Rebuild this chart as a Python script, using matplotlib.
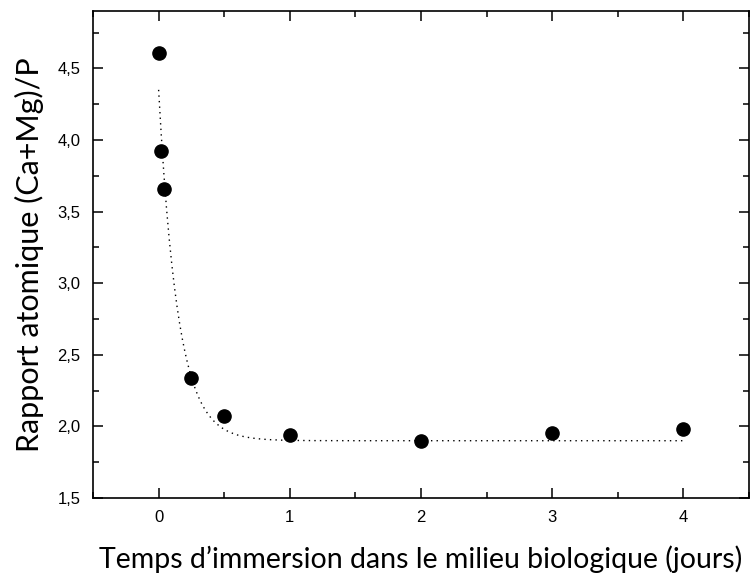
import numpy as np
import matplotlib
matplotlib.use("Agg")
import matplotlib.pyplot as plt
from matplotlib.ticker import MultipleLocator, FuncFormatter

# temps d'immersion (jours) et rapport atomique mesure
jours = [0, 0.0208, 0.0417, 0.25, 0.5, 1, 2, 3, 4]
rapport = [4.61, 3.92, 3.66, 2.34, 2.07, 1.94, 1.90, 1.955, 1.985]

# parametres de l'ajustement exponentiel y = y0 + A*exp(-t/tau)
y0 = 1.9
A = 2.45
tau = 0.146

fig = plt.figure(figsize=(7.52, 5.83), dpi=100)
ax = fig.add_axes([0.1237, 0.1458, 0.8723, 0.8352])

t = np.linspace(0, 4, 400)
ax.plot(t, y0 + A * np.exp(-t / tau), color="black", linestyle=(0, (1, 3)), linewidth=1.0)
ax.plot(jours, rapport, "o", color="black", markersize=9.5)

ax.set_xlim(-0.5, 4.5)
ax.set_ylim(1.5, 4.9)
ax.xaxis.set_major_locator(MultipleLocator(1))
ax.xaxis.set_minor_locator(MultipleLocator(0.5))
ax.yaxis.set_major_locator(MultipleLocator(0.5))
ax.yaxis.set_minor_locator(MultipleLocator(0.25))
ax.yaxis.set_major_formatter(FuncFormatter(lambda v, p: f"{v:.1f}".replace(".", ",")))

ax.tick_params(which="both", direction="in", top=True, right=True, width=1.1)
ax.tick_params(which="major", length=7, labelsize=12, pad=9)
ax.tick_params(which="minor", length=4)
for lab in ax.get_xticklabels() + ax.get_yticklabels():
    lab.set_family("Liberation Sans")
for s in ax.spines.values():
    s.set_linewidth(1.2)

ax.set_xlabel("Temps d\u2019immersion dans le milieu biologique (jours)", fontsize=20.5, family="Lato", labelpad=14)
ax.set_ylabel("Rapport atomique (Ca+Mg)/P", fontsize=22, family="Lato", labelpad=10)

fig.savefig("out.png", dpi=100)
